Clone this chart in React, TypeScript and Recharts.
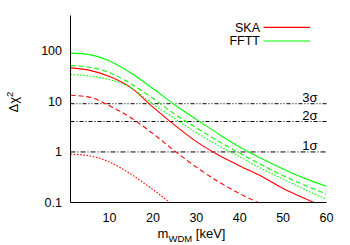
import React from 'react';
import { LineChart, Line, XAxis, YAxis, ReferenceLine, Customized } from 'recharts';

const mass = [1, 5, 10, 15, 20, 25, 30, 35, 40, 45, 50, 55, 60];
const ffttSolid = [90, 85, 63, 36, 18, 8.6, 4.4, 2.3, 1.25, 0.74, 0.46, 0.3, 0.21];
const ffttDashed = [51, 48, 37, 22, 11.5, 5.6, 3.0, 1.65, 0.95, 0.56, 0.34, 0.22, 0.147];
const ffttDotted = [34, 32, 27, 18.5, 8.8, 4.6, 2.4, 1.35, 0.8, 0.47, 0.29, 0.18, 0.116];
const skaSolid = [46, 42, 31, 18.5, 7.7, 3.4, 1.6, 0.88, 0.53, 0.33, 0.19, 0.12, 0.078];
const skaDashed = [13.2, 12.3, 8.2, 4.7, 2.3, 1.05, 0.5, 0.26, 0.15, 0.093, null, null, null];
const skaDotted = [0.9, 0.85, 0.63, 0.36, 0.18, 0.085, null, null, null, null, null, null, null];

const sigmaLevels = [9, 4, 1];
const sigmaLabels = ['3σ', '2σ', '1σ'];
const sigmaDash = ['4 2 1 2 1 2', '4 2 1 2', '5 2 1 2'];

const xTicks = [10, 20, 30, 40, 50, 60];
const yTicks = [0.1, 1, 10, 100];
const yMinorTicks = [0.2, 0.3, 0.4, 0.5, 0.6, 0.7, 0.8, 0.9, 2, 3, 4, 5, 6, 7, 8, 9, 20, 30, 40, 50, 60, 70, 80, 90, 200, 300, 400];

const legendItems = [
  { name: 'SKA', color: '#ff0000' },
  { name: 'FFTT', color: '#00ff00' },
];

const FONT = '"Liberation Sans", Arial, Helvetica, sans-serif';
const Y_DOMAIN: [number, number] = [0.1, 500];
const X_DOMAIN: [number, number] = [1, 60];

const data = mass.map((m, i) => ({
  m,
  fs: ffttSolid[i],
  fd: ffttDashed[i],
  fo: ffttDotted[i],
  ss: skaSolid[i],
  sd: skaDashed[i],
  so: skaDotted[i],
}));

const SigmaLabel = (props: any) => {
  const vb = props.viewBox || { x: 0, y: 0, width: 0 };
  return (
    <text x={vb.x + vb.width - 9} y={vb.y - 1.5} textAnchor="end" fontSize={13} fill="#000" fontFamily={FONT}>
      {props.sig}
    </text>
  );
};

const YLabel = (props: any) => {
  const vb = props.viewBox || { x: 0, y: 0, width: 0, height: 0 };
  const cx = 18;
  const cy = vb.y + vb.height / 2 - 7;
  return (
    <text x={cx} y={cy} transform={`rotate(-90, ${cx}, ${cy})`} textAnchor="middle" fontSize={13} fill="#000" fontFamily={FONT}>
      Δχ<tspan dy={-5} fontSize={9.5}>2</tspan>
    </text>
  );
};

const XLabel = (props: any) => {
  const vb = props.viewBox || { x: 0, y: 0, width: 0, height: 0 };
  const cx = vb.x + vb.width / 2 - 7;
  return (
    <text x={cx} y={238.3} textAnchor="middle" fontSize={13} fill="#000" fontFamily={FONT}>
      m<tspan dy={3.5} fontSize={9.5}>WDM</tspan>
      <tspan dy={-3.5}>{'\u00a0[keV]'}</tspan>
    </text>
  );
};

const LegendBox = () => (
  <g>
    {legendItems.map((it, i) => (
      <g key={it.name}>
        <text x={260} y={31.7 + i * 13.7} textAnchor="end" fontSize={12.5} fill="#000" fontFamily={FONT}>
          {it.name}
        </text>
        <path d={`M263.5,${27.3 + i * 13.7}H310`} stroke={it.color} strokeWidth={1.2} fill="none" />
      </g>
    ))}
  </g>
);

const tickStyle = { fill: '#000', fontSize: 12.5, fontFamily: FONT };

export default function App() {
  return (
    <div style={{ position: 'absolute', left: 0, top: 0, width: 350, height: 245, background: '#fff' }}>
      <LineChart width={350} height={245} data={data} margin={{ top: 15.5, right: 23.5, left: 0, bottom: 0 }}>
        <XAxis
          dataKey="m"
          type="number"
          domain={X_DOMAIN}
          allowDataOverflow
          ticks={xTicks}
          height={42.5}
          tickSize={0}
          tickMargin={11}
          tickLine={false}
          tick={tickStyle}
          stroke="#000"
          label={<XLabel />}
        />
        <XAxis xAxisId="top" orientation="top" mirror type="number" domain={X_DOMAIN} allowDataOverflow ticks={xTicks} height={0} tick={false} tickSize={5} stroke="#000" />
        <XAxis xAxisId="bmaj" orientation="bottom" mirror type="number" domain={X_DOMAIN} allowDataOverflow ticks={xTicks} height={0} tick={false} tickSize={5} axisLine={false} stroke="#000" />
        <YAxis
          type="number"
          scale="log"
          domain={Y_DOMAIN}
          allowDataOverflow
          ticks={yTicks}
          width={70.5}
          tickSize={0}
          tickMargin={8.5}
          tickLine={false}
          tick={tickStyle}
          stroke="#000"
          label={<YLabel />}
        />
        <YAxis yAxisId="lmaj" orientation="left" mirror type="number" scale="log" domain={Y_DOMAIN} allowDataOverflow ticks={yTicks} width={0} tick={false} tickSize={5} axisLine={false} stroke="#000" />
        <YAxis yAxisId="lmin" orientation="left" mirror type="number" scale="log" domain={Y_DOMAIN} allowDataOverflow ticks={yMinorTicks} width={0} tick={false} tickSize={3} axisLine={false} stroke="#000" />
        <YAxis yAxisId="rmaj" orientation="right" mirror type="number" scale="log" domain={Y_DOMAIN} allowDataOverflow ticks={yTicks} width={0} tick={false} tickSize={5} stroke="#000" />
        <YAxis yAxisId="rmin" orientation="right" mirror type="number" scale="log" domain={Y_DOMAIN} allowDataOverflow ticks={yMinorTicks} width={0} tick={false} tickSize={3} axisLine={false} stroke="#000" />
        {sigmaLevels.map((lv, i) => (
          <ReferenceLine key={lv} y={lv} stroke="#000" strokeDasharray={sigmaDash[i]} label={<SigmaLabel sig={sigmaLabels[i]} />} />
        ))}
        <Line dataKey="so" stroke="#ff0000" strokeDasharray="1.6 1.6" dot={false} type="monotone" isAnimationActive={false} strokeWidth={1.1} />
        <Line dataKey="sd" stroke="#ff0000" strokeDasharray="5 3" dot={false} type="monotone" isAnimationActive={false} strokeWidth={1.1} />
        <Line dataKey="ss" stroke="#ff0000" dot={false} type="monotone" isAnimationActive={false} strokeWidth={1.1} />
        <Line dataKey="fo" stroke="#00ff00" strokeDasharray="1.6 1.6" dot={false} type="monotone" isAnimationActive={false} strokeWidth={1.1} />
        <Line dataKey="fd" stroke="#00ff00" strokeDasharray="5 3" dot={false} type="monotone" isAnimationActive={false} strokeWidth={1.1} />
        <Line dataKey="fs" stroke="#00ff00" dot={false} type="monotone" isAnimationActive={false} strokeWidth={1.1} />
        <Customized component={LegendBox} />
      </LineChart>
    </div>
  );
}
